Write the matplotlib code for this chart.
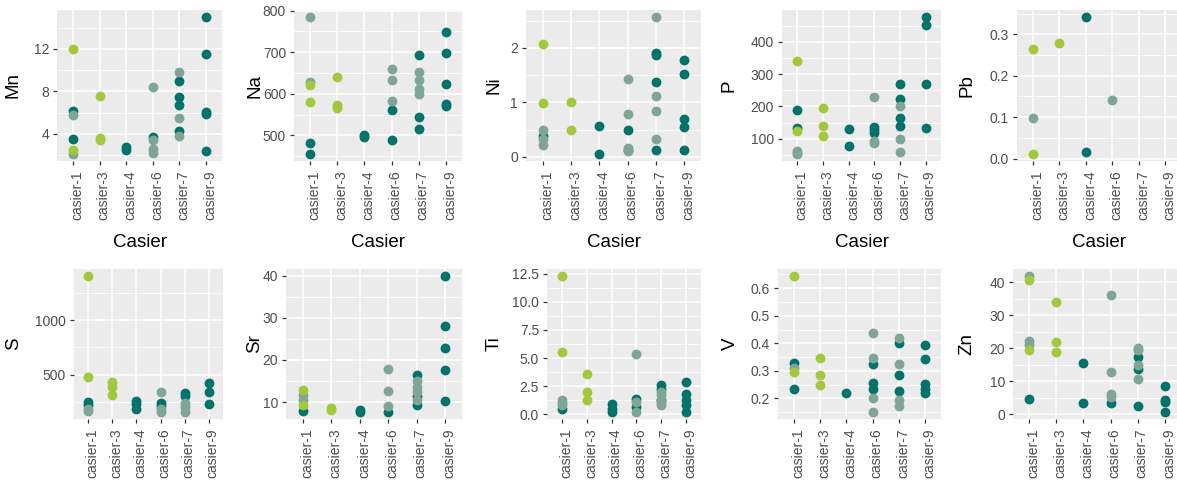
import matplotlib
matplotlib.use("Agg")
import matplotlib.pyplot as plt
import matplotlib.transforms as mtransforms
import numpy as np

# ---------------- data ----------------
CASIERS = ["casier-1", "casier-3", "casier-4", "casier-6", "casier-7", "casier-9"]
GROUP_COLORS = {"A": "#a2c93a", "B": "#7fa596", "C": "#00736a"}
DRAW_ORDER = ["C", "B", "A"]

mn_cas = [1, 1, 1, 1, 1, 1, 3, 3, 3, 4, 4, 6, 6, 6, 6, 6, 7, 7, 7, 7, 7, 7, 7, 9, 9, 9, 9, 9]
mn_val = [12.0, 2.5, 6.2, 3.5, 5.8, 2.1, 7.6, 3.6, 3.4, 2.8, 2.5, 8.4, 3.4, 2.6, 2.2, 3.7,
          9.8, 9.0, 7.5, 6.7, 5.5, 4.3, 3.8, 15.0, 11.5, 6.1, 5.9, 2.35]
mn_grp = list("AACCBB" "AAA" "CC" "BBBBC" "BCCCBCB" "CCCCC")

na_cas = [1, 1, 1, 1, 1, 1, 3, 3, 3, 4, 4, 6, 6, 6, 6, 6, 7, 7, 7, 7, 7, 7, 7, 9, 9, 9, 9, 9]
na_val = [785, 628, 620, 581, 482, 455, 640, 572, 565, 500, 497, 659, 633, 582, 561, 490,
          693, 653, 633, 612, 600, 545, 516, 749, 697, 623, 576, 570]
na_grp = list("BBAACC" "AAA" "CC" "BBBCC" "CBBBBCC" "CCCCC")

ni_cas = [1, 1, 1, 1, 1, 1, 3, 3, 4, 4, 6, 6, 6, 6, 6, 6, 7, 7, 7, 7, 7, 7, 7, 7, 9, 9, 9, 9, 9]
ni_val = [2.08, 0.98, 0.50, 0.38, 0.32, 0.22, 1.01, 0.50, 0.57, 0.05, 1.43, 0.79, 0.50, 0.17, 0.12, 0.10,
          2.57, 1.91, 1.87, 1.38, 1.11, 0.85, 0.33, 0.12, 1.77, 1.52, 0.70, 0.55, 0.12]
ni_grp = list("AABCBB" "AA" "CC" "BBCBCB" "BCCCBBBC" "CCCCC")

p_cas = [1, 1, 1, 1, 1, 1, 1, 3, 3, 3, 4, 4, 6, 6, 6, 6, 6, 6, 7, 7, 7, 7, 7, 7, 7, 9, 9, 9, 9]
p_val = [341, 188, 133, 125, 63, 56, 52, 195, 140, 107, 130, 76, 229, 135, 127, 118, 92, 87,
         270, 223, 200, 164, 140, 100, 58, 478, 453, 270, 133]
p_grp = list("ACCABBB" "AAA" "CC" "BCCCBB" "CCBCCBB" "CCCC")

pb_cas = [1, 1, 1, 3, 4, 4, 6]
pb_val = [0.264, 0.098, 0.011, 0.280, 0.342, 0.016, 0.141]
pb_grp = list("ABA" "A" "CC" "B")

s_cas = [1, 1, 1, 1, 1, 1, 3, 3, 3, 4, 4, 4, 6, 6, 6, 6, 6, 7, 7, 7, 7, 7, 9, 9, 9]
s_val = [1405, 482, 247, 226, 186, 165, 430, 384, 317, 262, 232, 186, 338, 241, 216, 186, 158,
         332, 308, 241, 201, 162, 421, 338, 232]
s_grp = list("AACCBB" "AAA" "CCC" "BCCBB" "CCBBB" "CCC")

sr_cas = [1, 1, 1, 1, 1, 3, 3, 4, 4, 6, 6, 6, 6, 7, 7, 7, 7, 7, 7, 7, 9, 9, 9, 9, 9]
sr_val = [12.9, 11.6, 10.5, 9.2, 7.8, 8.7, 8.2, 8.2, 7.6, 17.9, 12.6, 9.0, 7.6,
          16.4, 14.9, 13.7, 12.5, 11.4, 10.6, 9.4, 40.0, 28.1, 22.9, 17.7, 10.3]
sr_grp = list("ABBAC" "AA" "CC" "BBBC" "CBBBCBC" "CCCCC")

ti_cas = [1, 1, 1, 1, 1, 1, 3, 3, 3, 4, 4, 4, 6, 6, 6, 6, 6, 7, 7, 7, 7, 7, 7, 7, 7, 9, 9, 9, 9, 9]
ti_val = [12.3, 5.5, 1.25, 1.0, 0.8, 0.45, 3.6, 1.95, 1.25, 0.9, 0.5, 0.2, 5.4, 1.4, 1.1, 0.65, 0.25,
          2.6, 2.3, 2.0, 1.7, 1.25, 1.3, 1.0, 0.8, 2.9, 1.85, 1.25, 0.8, 0.2]
ti_grp = list("AABBBC" "AAA" "CCC" "BCBCB" "CCBBCBBB" "CCCCC")

v_cas = [1, 1, 1, 1, 1, 3, 3, 3, 4, 6, 6, 6, 6, 6, 6, 6, 7, 7, 7, 7, 7, 7, 7, 9, 9, 9, 9, 9]
v_val = [0.645, 0.330, 0.311, 0.296, 0.233, 0.345, 0.285, 0.247, 0.221,
         0.439, 0.345, 0.326, 0.257, 0.233, 0.200, 0.150,
         0.420, 0.402, 0.326, 0.285, 0.227, 0.196, 0.172,
         0.394, 0.344, 0.253, 0.233, 0.221]
v_grp = list("ACBAC" "AAA" "C" "BBCCCBB" "BCBCCBB" "CCCCC")

zn_cas = [1, 1, 1, 1, 1, 1, 3, 3, 3, 4, 4, 6, 6, 6, 6, 6, 7, 7, 7, 7, 7, 7, 7, 9, 9, 9, 9]
zn_val = [42.0, 40.8, 22.2, 21.0, 19.5, 4.5, 34.1, 21.9, 18.9, 15.6, 3.5, 36.2, 12.8, 6.0, 5.2, 3.5,
          20.2, 19.4, 17.5, 14.8, 13.8, 10.6, 2.6, 8.7, 4.3, 3.7, 0.6]
zn_grp = list("BABBAC" "AAA" "CC" "BBBBC" "BBCBCBC" "CCCC")

# y tick values and labels per panel
mn_ticks, mn_labels = [4, 8, 12], ["4", "8", "12"]
na_ticks, na_labels = [500, 600, 700, 800], ["500", "600", "700", "800"]
ni_ticks, ni_labels = [0, 1, 2], ["0", "1", "2"]
p_ticks, p_labels = [100, 200, 300, 400], ["100", "200", "300", "400"]
pb_ticks, pb_labels = [0.0, 0.1, 0.2, 0.3], ["0.0", "0.1", "0.2", "0.3"]
s_ticks, s_labels = [500, 1000], ["500", "1000"]
sr_ticks, sr_labels = [10, 20, 30, 40], ["10", "20", "30", "40"]
ti_ticks, ti_labels = [0, 2.5, 5, 7.5, 10, 12.5], ["0.0", "2.5", "5.0", "7.5", "10.0", "12.5"]
v_ticks, v_labels = [0.2, 0.3, 0.4, 0.5, 0.6], ["0.2", "0.3", "0.4", "0.5", "0.6"]
zn_ticks, zn_labels = [0, 10, 20, 30, 40], ["0", "10", "20", "30", "40"]

# ---------------- layout ----------------
W, H = 1177, 483
plt.rcParams["font.family"] = ["Liberation Sans", "DejaVu Sans"]
fig = plt.figure(figsize=(W / 100, H / 100), dpi=100)
fig.patch.set_facecolor("white")

panels = [
    # name, cas, val, grp, ticks, labels, rect(px: l,t,r,b), ylabel x px, show xtitle
    ("Mn", mn_cas, mn_val, mn_grp, mn_ticks, mn_labels, (57, 10, 222, 161), 13, True),
    ("Na", na_cas, na_val, na_grp, na_ticks, na_labels, (294, 10, 462, 161), 255, True),
    ("Ni", ni_cas, ni_val, ni_grp, ni_ticks, ni_labels, (526, 10, 701, 161), 494, True),
    ("P", p_cas, p_val, p_grp, p_ticks, p_labels, (782, 10, 941, 161), 729, True),
    ("Pb", pb_cas, pb_val, pb_grp, pb_ticks, pb_labels, (1017, 10, 1181, 161), 967, True),
    ("S", s_cas, s_val, s_grp, s_ticks, s_labels, (74, 269, 223, 419), 14, False),
    ("Sr", sr_cas, sr_val, sr_grp, sr_ticks, sr_labels, (286, 269, 462, 419), 255, False),
    ("Ti", ti_cas, ti_val, ti_grp, ti_ticks, ti_labels, (547, 269, 701, 419), 494, False),
    ("V", v_cas, v_val, v_grp, v_ticks, v_labels, (778, 269, 941, 419), 730, False),
    ("Zn", zn_cas, zn_val, zn_grp, zn_ticks, zn_labels, (1013, 269, 1181, 419), 967, False),
]

cas_index = {int(c.split("-")[1]): i for i, c in enumerate(CASIERS)}
shift = mtransforms.ScaledTranslation(-2.0 / 72, 0, fig.dpi_scale_trans)

for name, cas, val, grp, ticks, labels, (l, t, r, b), ylx, xtitle in panels:
    ax = fig.add_axes([l / W, 1 - b / H, (r - l) / W, (b - t) / H])
    ax.set_facecolor("#ebebeb")
    xs = np.array([cas_index[c] for c in cas], dtype=float)
    ys = np.array(val, dtype=float)
    gs = np.array(grp)
    for g in DRAW_ORDER:
        m = gs == g
        ax.scatter(xs[m], ys[m], s=50, color=GROUP_COLORS[g], linewidths=0, zorder=3)
    # ggplot-like limits
    ax.set_xlim(-0.6, len(CASIERS) - 1 + 0.6)
    lo, hi = ys.min(), ys.max()
    pad = (hi - lo) * 0.05
    ax.set_xticks(range(len(CASIERS)))
    ax.set_xticklabels(CASIERS, rotation=90, ha="left", va="top", fontsize=10, color="#4d4d4d")
    ax.set_yticks(ticks)
    ax.set_yticklabels(labels, fontsize=10, color="#4d4d4d")
    step = ticks[1] - ticks[0]
    minors = np.arange(ticks[0] - step / 2, hi + pad + step, step)
    ax.set_yticks(minors, minor=True)
    ax.set_ylim(lo - pad, hi + pad)
    ax.tick_params(axis="y", which="major", direction="out", length=2.7, width=0.9,
                   color="#333333", pad=3)
    ax.tick_params(axis="x", which="major", direction="out", length=2.7, width=0.9,
                   color="#333333", pad=4.2)
    ax.tick_params(which="minor", length=0)
    ax.grid(True, which="major", color="white", linewidth=1.1, zorder=0)
    ax.grid(True, which="minor", axis="y", color="white", linewidth=0.55, zorder=0)
    ax.set_axisbelow(True)
    for sp in ax.spines.values():
        sp.set_visible(False)
    for lab in ax.get_xticklabels():
        lab.set_transform(lab.get_transform() + shift)
    fig.text(ylx / W, 1 - ((t + b) / 2) / H, name, rotation=90, ha="center", va="center",
             fontsize=13.5, color="black")
    if xtitle:
        fig.text(((l + r) / 2) / W, 1 - 243 / H, "Casier", ha="center", va="center",
                 fontsize=13.5, color="black")

fig.savefig("out.png", dpi=100, facecolor="white")
